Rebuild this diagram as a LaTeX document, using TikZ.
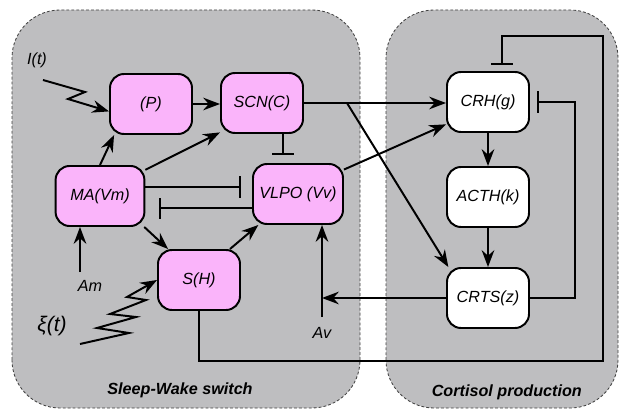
\documentclass[tikz,border=0pt]{standalone}
\usepackage{fontspec}
\setmainfont{Liberation Sans}
\usetikzlibrary{arrows.meta,positioning}
\definecolor{panelgray}{RGB}{190,190,192}
\definecolor{cellpink}{RGB}{250,180,250}

\begin{document}
\begin{tikzpicture}[
  every node/.style={font=\fontsize{11.5}{13}\selectfont\itshape},
  cell/.style={draw, line width=1.4pt, rounded corners=0.35cm, minimum width=2.05cm, minimum height=1.5cm, fill=cellpink},
  gland/.style={cell, fill=white},
  panel/.style={draw=black!75, fill=panelgray, dash pattern=on 2pt off 1.5pt, line width=0.6pt, rounded corners=1.2cm},
  act/.style={line width=1.4pt, -{Stealth[length=12pt,width=9pt,inset=4pt]}},
  inh/.style={line width=1.4pt, -{Bar[width=15pt]}},
  title/.style={font=\fontsize{11.5}{14}\selectfont\bfseries\itshape}
]
\useasboundingbox (0,0) rectangle (15.475,10.3);
% compartments
\draw[panel] (0.3,0.1) rectangle (9.0,10.05);
\draw[panel] (9.65,0.1) rectangle (15.45,10.05);
\node[title] (swTitle) at (4.5,0.53) {Sleep-Wake switch};
\node[title] (cpTitle) at (12.67,0.5) {Cortisol production};

% sleep-wake cells
\node[cell] (P) at (3.775,7.7) {(P)};
\node[cell] (SCN) at (6.55,7.725) {SCN(C)};
\node[cell, minimum width=2.22cm] (MA) at (2.5,5.4) {MA(Vm)};
\node[cell, minimum width=2.25cm] (VLPO) at (7.45,5.45) {VLPO (Vv)};
\node[cell] (SH) at (4.975,3.3) {S(H)};
% cortisol cells
\node[gland] (CRH) at (12.2,7.75) {CRH(g)};
\node[gland] (ACTH) at (12.2,5.375) {ACTH(k)};
\node[gland] (CRTS) at (12.2,2.85) {CRTS(z)};

% inputs
\node (It) at (0.925,8.8) {I(t)};
\node (Am) at (2.25,3.15) {Am};
\node[font=\fontsize{15}{18}\selectfont\itshape] (Xi) at (1.3,2.15) {ξ(t)};
\node (Av) at (8.05,1.975) {Av};
\coordinate (itIn) at (1.075,8.3);
\coordinate (amIn) at (2.0,3.5);
\coordinate (avIn) at (8.05,2.375);
\coordinate (xiIn) at (2.0,1.7);
\coordinate (loopR) at (15.075,1.275);

% excitation
\draw[act] (itIn) -- (2.125,8.0) -- (1.7,7.825) -- (P.190);
\draw[act] (xiIn) -- (3.225,1.975) -- (2.425,2.1) -- (3.4,2.375) -- (2.75,2.45) -- (3.65,2.8) -- (3.175,2.875) -- (SH.west);
\draw[act] (P.east) -- (P.east -| SCN.west);
\draw[act] (MA.north) -- (P.220);
\draw[act] (MA.30) -- (SCN.215);
\draw[act] (MA.-35) -- (SH.135);
\draw[act] (SH.45) -- (VLPO.218);
\draw[act] (amIn) -- (amIn |- MA.south);
\draw[act] (avIn) -- (avIn |- VLPO.south);
\draw[act] (CRTS.west) -- (CRTS.west -| avIn);
\draw[act] (SCN.east) -- (SCN.east -| CRH.west);
\draw[act] ([xshift=1.075cm]SCN.east) -- (CRTS.142);
\draw[act] (VLPO.28) -- (CRH.208);
\draw[act] (CRH) -- (ACTH);
\draw[act] (ACTH) -- (CRTS);

% inhibition
\draw[inh, shorten >=0.27cm] ([yshift=0.225cm]MA.east) -- ([yshift=0.225cm]MA.east -| VLPO.west);
\draw[inh, shorten >=0.34cm] ([yshift=-0.36cm]VLPO.west) -- ([yshift=-0.36cm]VLPO.west -| MA.east);
\draw[inh, shorten >=0.2cm] ([xshift=0.525cm]SCN.south) -- ([xshift=0.525cm]SCN.south |- VLPO.north);
\draw[inh, shorten >=0.18cm] (CRTS.east) -- ++(1.125,0) |- (CRH.east);
\draw[inh, shorten >=0.15cm] (SH.south) |- (loopR) |- ([xshift=0.35cm,yshift=0.875cm]CRH.north) -- ([xshift=0.35cm]CRH.north);
\end{tikzpicture}
\end{document}
